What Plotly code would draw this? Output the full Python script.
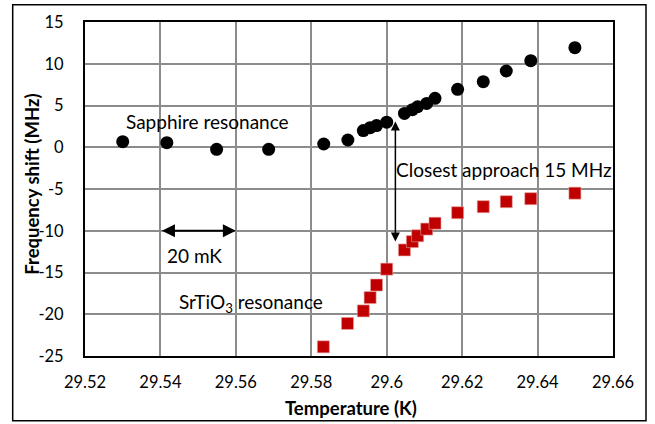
import plotly.graph_objects as go

# ---- data ----
temp_sapphire = [29.5300, 29.5417, 29.5549, 29.5687, 29.5833, 29.5897, 29.5938, 29.5956,
                 29.5973, 29.6000, 29.6047, 29.6068, 29.6082, 29.6106, 29.6128, 29.6188,
                 29.6256, 29.6317, 29.6382, 29.6499]
shift_sapphire = [0.67, 0.55, -0.25, -0.25, 0.39, 0.87, 2.0, 2.35, 2.6, 3.0,
                  4.05, 4.5, 4.85, 5.25, 5.86, 6.94, 7.85, 9.13, 10.37, 11.92]

temp_srtio3 = [29.5832, 29.5896, 29.5938, 29.5956, 29.5973, 29.6000, 29.6047, 29.6068,
               29.6082, 29.6106, 29.6128, 29.6188, 29.6256, 29.6317, 29.6382, 29.6499]
shift_srtio3 = [-23.9, -21.1, -19.6, -18.0, -16.5, -14.6, -12.3, -11.3,
                -10.6, -9.8, -9.1, -7.84, -7.12, -6.52, -6.16, -5.5]

x_ticks = [29.52, 29.54, 29.56, 29.58, 29.60, 29.62, 29.64, 29.66]
x_tick_labels = ["29.52", "29.54", "29.56", "29.58", "29.6", "29.62", "29.64", "29.66"]
y_ticks = [-25, -20, -15, -10, -5, 0, 5, 10, 15]
y_tick_labels = ["-25", "-20", "-15", "-10", "-5", "0", "5", "10", "15"]

FONT = "Lato"
FS_TICK = 16.5
FS_TEXT = 19
FS_TITLE = 18.5

fig = go.Figure()
fig.add_trace(go.Scatter(x=temp_sapphire, y=shift_sapphire, mode="markers",
                         marker=dict(symbol="circle", size=13, color="black"),
                         name="Sapphire", showlegend=False))
fig.add_trace(go.Scatter(x=temp_srtio3, y=shift_srtio3, mode="markers",
                         marker=dict(symbol="square", size=12, color="#C00000",
                                     line=dict(color="#E8A0A0", width=0.6)),
                         name="SrTiO3", showlegend=False))

W, H = 655, 424
L, R, T, B = 85, 42, 22, 68
pw, ph = W - L - R, H - T - B

def px2paper_x(p):
    return (p - L) / pw

def px2paper_y(p):
    return (H - B - p) / ph

txt = dict(size=FS_TEXT, color="black", family=FONT)
ttl = dict(size=FS_TITLE, color="black", family=FONT)

annotations = [
    dict(x=29.5525, y=3.14, xref="x", yref="y", text="Sapphire resonance", showarrow=False,
         xanchor="center", yanchor="middle", font=txt),
    dict(x=29.5641, y=-18.69, xref="x", yref="y", text="SrTiO<sub>3</sub> resonance", showarrow=False,
         xanchor="center", yanchor="middle", font=txt),
    dict(x=29.549, y=-13.0, xref="x", yref="y", text="20 mK", showarrow=False,
         xanchor="center", yanchor="middle", font=txt),
    dict(x=29.6311, y=-2.64, xref="x", yref="y", text="Closest approach 15 MHz", showarrow=False,
         xanchor="center", yanchor="middle", font=txt),
    # horizontal double arrow (20 mK)
    dict(x=29.56, y=-10, ax=29.54, ay=-10, xref="x", yref="y", axref="x", ayref="y",
         text="", showarrow=True, arrowhead=2, startarrowhead=2, arrowside="end+start",
         arrowsize=1.3, startarrowsize=1.3, arrowwidth=2, arrowcolor="black"),
    # vertical double arrow (closest approach)
    dict(x=29.6023, y=-11.3, ax=29.6023, ay=3.26, xref="x", yref="y", axref="x", ayref="y",
         text="", showarrow=True, arrowhead=2, startarrowhead=2, arrowside="end+start",
         arrowsize=1.2, startarrowsize=1.2, arrowwidth=1.5, arrowcolor="black"),
    # axis titles
    dict(x=px2paper_x(350.5), y=px2paper_y(408), xref="paper", yref="paper",
         xanchor="center", yanchor="middle",
         text="<b>Temperature (K)</b>", showarrow=False, font=ttl),
    dict(x=px2paper_x(31.7), y=px2paper_y(184), xref="paper", yref="paper",
         xanchor="center", yanchor="middle",
         text="<b>Frequency shift (MHz)</b>", showarrow=False, textangle=-90, font=ttl),
]

shapes = [
    dict(type="rect", xref="paper", yref="paper",
         x0=px2paper_x(12.7), x1=px2paper_x(646), y0=px2paper_y(420.7), y1=px2paper_y(4.7),
         line=dict(color="black", width=1.5), layer="below"),
]

fig.update_layout(
    width=W, height=H,
    margin=dict(l=L, r=R, t=T, b=B),
    paper_bgcolor="white", plot_bgcolor="white",
    font=dict(family=FONT, size=FS_TICK, color="black"),
    annotations=annotations, shapes=shapes,
    xaxis=dict(range=[29.52, 29.66], tickvals=x_ticks, ticktext=x_tick_labels,
               showgrid=True, gridcolor="#8C8C8C", gridwidth=1.5,
               showline=True, linecolor="black", linewidth=2, mirror=True,
               zeroline=False, ticks="", ticklabelstandoff=10,
               tickfont=dict(size=FS_TICK, color="black", family=FONT)),
    yaxis=dict(range=[-25, 15], tickvals=y_ticks, ticktext=y_tick_labels,
               showgrid=True, gridcolor="#8C8C8C", gridwidth=1.5,
               showline=True, linecolor="black", linewidth=2, mirror=True,
               zeroline=False, ticks="", ticklabelstandoff=16,
               tickfont=dict(size=FS_TICK, color="black", family=FONT)),
)

fig.write_html("out.html")
